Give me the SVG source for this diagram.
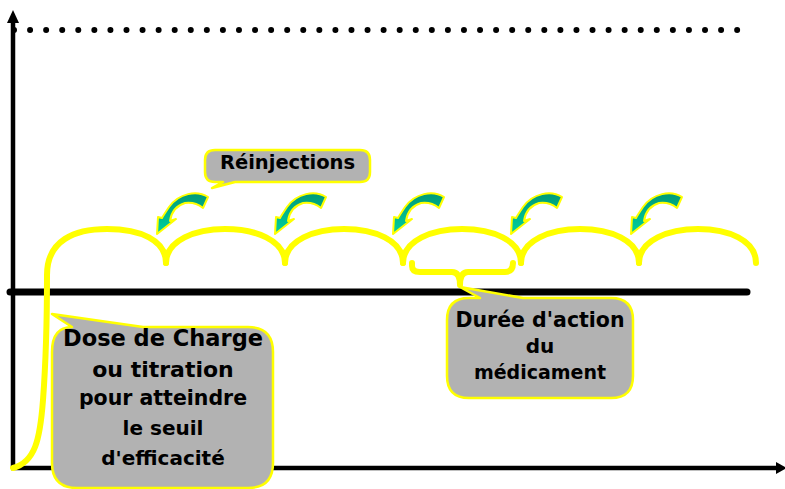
<svg xmlns="http://www.w3.org/2000/svg" width="785" height="489" viewBox="0 0 785 489">
<defs>
<style>
.axis{stroke:#000;stroke-width:4.5;fill:none}
.arch{stroke:#ffff00;stroke-width:6;fill:none;stroke-linecap:round;stroke-linejoin:round}
.call{fill:#b2b2b2;stroke:#ffff00;stroke-width:2.5;stroke-linejoin:round}
.lbl{font-family:"DejaVu Sans",Verdana,sans-serif;font-weight:bold;fill:#000;text-anchor:middle}
.garrow{fill:url(#g);stroke:#ffff00;stroke-width:2;stroke-linejoin:round}
</style>
<linearGradient id="g" x1="0" y1="0" x2="0" y2="1">
<stop offset="0" stop-color="#009a78"/>
<stop offset="1" stop-color="#00d2a0"/>
</linearGradient>
<path id="ga" d="M51,-37 C40,-44 22,-41 12,-27 C8,-21 6,-18 5,-16 L1,-17 L0,0 L19,-15 L13,-13 C14,-20 18,-28 28,-31 C35,-32 41,-30 46,-26 Z"/>
</defs>
<g id="axes">
<line class="axis" x1="13" y1="468" x2="13" y2="20"/>
<polygon points="13,10 7,23 19,23" fill="#000"/>
<line class="axis" x1="11" y1="468" x2="778" y2="468" stroke-width="3.5"/>
<polygon points="787,468 776,462 776,474" fill="#000"/>
<line x1="14" y1="30" x2="738" y2="30" stroke="#000" stroke-width="6" stroke-linecap="round" stroke-dasharray="0 16.07"/>
<line x1="10" y1="292" x2="747" y2="292" stroke="#000" stroke-width="7" stroke-linecap="round"/>
</g>
<g id="connectors">
<path class="arch" d="M13,468 C35,462 40,440 43,400 C46,360 47,320 47,275 C47,240 75,229 107,229 C140,229 166,240 166,263"/>
<path class="arch" d="M166,263 C166,240 196,229 225,229 C255,229 285,240 285,263"/>
<path class="arch" d="M285,263 C285,240 315,229 344,229 C374,229 403,240 403,263"/>
<path class="arch" d="M403,263 C403,240 433,229 462,229 C492,229 521,240 521,263"/>
<path class="arch" d="M521,263 C521,240 551,229 580,229 C610,229 639,240 639,263"/>
<path class="arch" d="M639,263 C639,240 669,229 698,229 C728,229 756,240 756,263"/>
<path class="arch" stroke-width="4.5" d="M412,263 L412,266 Q412,272 420,272 L452,272 Q460,272 460,285 Q460,272 468,272 L505,272 Q513,272 513,263"/>
<use href="#ga" class="garrow" transform="translate(157,234)"/>
<use href="#ga" class="garrow" transform="translate(275,234)"/>
<use href="#ga" class="garrow" transform="translate(393,234)"/>
<use href="#ga" class="garrow" transform="translate(511,234)"/>
<use href="#ga" class="garrow" transform="translate(631,234)"/>
</g>
<g id="reinjections">
<path class="call" d="M215,150 L360,150 Q370,150 370,160 L370,172 Q370,182 360,182 L235,182 L212,188 L223,182 L215,182 Q205,182 205,172 L205,160 Q205,150 215,150 Z"/>
<text class="lbl" x="287.5" y="169" font-size="19.5">Réinjections</text>
</g>
<g id="duree">
<path class="call" d="M447,320 Q447,298 469,298 L480,298 L460,287 L523,298 L611,298 Q633,298 633,320 L633,376 Q633,398 611,398 L469,398 Q447,398 447,376 Z"/>
<text class="lbl" x="540" y="327" font-size="20.5">Durée d'action</text>
<text class="lbl" x="540" y="353" font-size="20">du</text>
<text class="lbl" x="540" y="379" font-size="19">médicament</text>
</g>
<g id="dose">
<path class="call" d="M52,352 Q52,327 72,327 L52,314 L143,327 L248,327 Q273,327 273,352 L273,463 Q273,488 248,488 L77,488 Q52,488 52,463 Z"/>
<text class="lbl" x="163" y="346" font-size="22.5">Dose de Charge</text>
<text class="lbl" x="163" y="377" font-size="22">ou titration</text>
<text class="lbl" x="163" y="405" font-size="20.5">pour atteindre</text>
<text class="lbl" x="163" y="435" font-size="20">le seuil</text>
<text class="lbl" x="163" y="465" font-size="20">d'efficacité</text>
</g>
</svg>
